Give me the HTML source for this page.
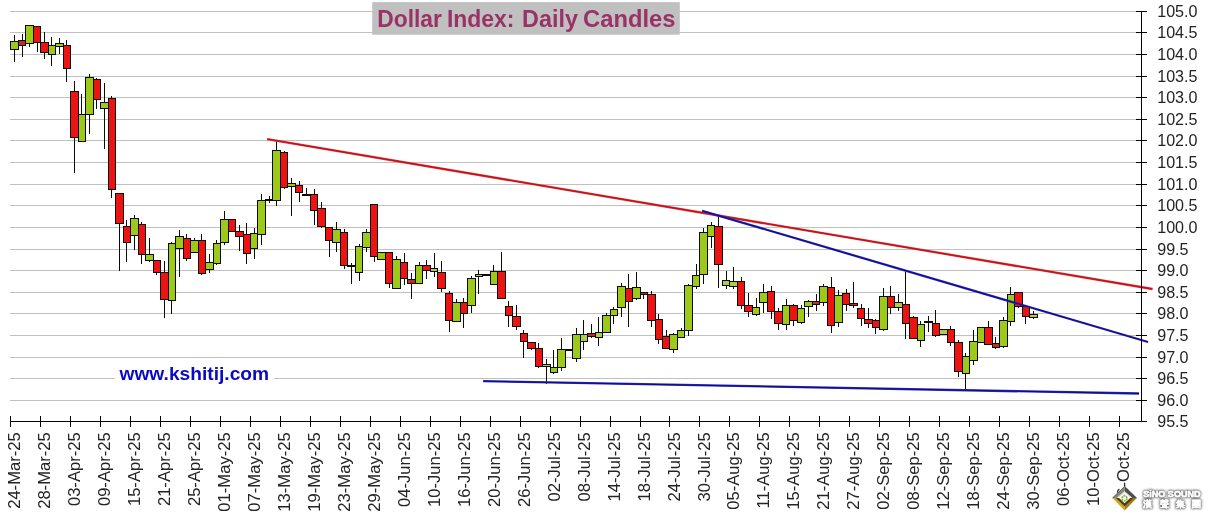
<!DOCTYPE html>
<html lang="en"><head><meta charset="utf-8"><title>Dollar Index: Daily Candles</title>
<style>html,body{margin:0;padding:0;background:#fff;}body{width:1211px;height:520px;overflow:hidden;}svg{display:block;}text{font-family:"Liberation Sans", Arial, Helvetica, sans-serif;}</style>
</head><body>
<svg width="1211" height="520" viewBox="0 0 1211 520">
<rect width="1211" height="520" fill="#ffffff"/>
<g stroke="#c0c0c0" stroke-width="1" shape-rendering="crispEdges">
<line x1="10.4" y1="11.50" x2="1141.5" y2="11.50"/>
<line x1="10.4" y1="32.50" x2="1141.5" y2="32.50"/>
<line x1="10.4" y1="54.50" x2="1141.5" y2="54.50"/>
<line x1="10.4" y1="76.50" x2="1141.5" y2="76.50"/>
<line x1="10.4" y1="97.50" x2="1141.5" y2="97.50"/>
<line x1="10.4" y1="119.50" x2="1141.5" y2="119.50"/>
<line x1="10.4" y1="140.50" x2="1141.5" y2="140.50"/>
<line x1="10.4" y1="162.50" x2="1141.5" y2="162.50"/>
<line x1="10.4" y1="184.50" x2="1141.5" y2="184.50"/>
<line x1="10.4" y1="205.50" x2="1141.5" y2="205.50"/>
<line x1="10.4" y1="227.50" x2="1141.5" y2="227.50"/>
<line x1="10.4" y1="249.50" x2="1141.5" y2="249.50"/>
<line x1="10.4" y1="270.50" x2="1141.5" y2="270.50"/>
<line x1="10.4" y1="292.50" x2="1141.5" y2="292.50"/>
<line x1="10.4" y1="313.50" x2="1141.5" y2="313.50"/>
<line x1="10.4" y1="335.50" x2="1141.5" y2="335.50"/>
<line x1="10.4" y1="357.50" x2="1141.5" y2="357.50"/>
<line x1="10.4" y1="378.50" x2="1141.5" y2="378.50"/>
<line x1="10.4" y1="400.50" x2="1141.5" y2="400.50"/>
</g>
<rect x="372.2" y="2.1" width="307.6" height="32.6" fill="#c0c0c0"/>
<text x="377.3" y="26.7" font-size="23.4" font-weight="bold" fill="#993366" opacity="0.999" textLength="64.6" lengthAdjust="spacingAndGlyphs">Dollar</text>
<text x="447.0" y="26.7" font-size="23.4" font-weight="bold" fill="#993366" opacity="0.999" textLength="67.5" lengthAdjust="spacingAndGlyphs">Index:</text>
<text x="522.1" y="26.7" font-size="23.4" font-weight="bold" fill="#993366" opacity="0.999" textLength="55.8" lengthAdjust="spacingAndGlyphs">Daily</text>
<text x="583.1" y="26.7" font-size="23.4" font-weight="bold" fill="#993366" opacity="0.999" textLength="92.3" lengthAdjust="spacingAndGlyphs">Candles</text>
<rect x="114.9" y="362" width="159.3" height="24" fill="#ffffff"/>
<text x="119.5" y="379.6" font-size="19.2" font-weight="bold" fill="#0a0ac4" opacity="0.999">www.kshitij.com</text>
<g stroke="#0c0c02" stroke-width="1" shape-rendering="crispEdges">
<line x1="14.5" y1="35" x2="14.5" y2="62"/>
<line x1="22.5" y1="34" x2="22.5" y2="57"/>
<line x1="29.5" y1="25" x2="29.5" y2="47"/>
<line x1="37.5" y1="26" x2="37.5" y2="52"/>
<line x1="44.5" y1="32" x2="44.5" y2="59"/>
<line x1="51.5" y1="37" x2="51.5" y2="66"/>
<line x1="59.5" y1="38" x2="59.5" y2="54"/>
<line x1="66.5" y1="40" x2="66.5" y2="82"/>
<line x1="74.5" y1="81" x2="74.5" y2="173"/>
<line x1="81.5" y1="94" x2="81.5" y2="142"/>
<line x1="89.5" y1="74" x2="89.5" y2="134"/>
<line x1="96.5" y1="78" x2="96.5" y2="109"/>
<line x1="104.5" y1="83" x2="104.5" y2="149"/>
<line x1="111.5" y1="96" x2="111.5" y2="198"/>
<line x1="119.5" y1="193" x2="119.5" y2="271"/>
<line x1="126.5" y1="220" x2="126.5" y2="262"/>
<line x1="134.5" y1="215" x2="134.5" y2="250"/>
<line x1="141.5" y1="222" x2="141.5" y2="264"/>
<line x1="149.5" y1="238" x2="149.5" y2="262"/>
<line x1="156.5" y1="260" x2="156.5" y2="275"/>
<line x1="164.5" y1="261" x2="164.5" y2="318"/>
<line x1="171.5" y1="242" x2="171.5" y2="314"/>
<line x1="179.5" y1="230" x2="179.5" y2="277"/>
<line x1="186.5" y1="234" x2="186.5" y2="261"/>
<line x1="194.5" y1="238" x2="194.5" y2="253"/>
<line x1="201.5" y1="234" x2="201.5" y2="275"/>
<line x1="209.5" y1="254" x2="209.5" y2="273"/>
<line x1="216.5" y1="240" x2="216.5" y2="265"/>
<line x1="224.5" y1="211" x2="224.5" y2="245"/>
<line x1="231.5" y1="219" x2="231.5" y2="232"/>
<line x1="239.5" y1="225" x2="239.5" y2="251"/>
<line x1="246.5" y1="223" x2="246.5" y2="264"/>
<line x1="254.5" y1="228" x2="254.5" y2="259"/>
<line x1="261.5" y1="194" x2="261.5" y2="245"/>
<line x1="269.5" y1="196" x2="269.5" y2="203"/>
<line x1="276.5" y1="141" x2="276.5" y2="206"/>
<line x1="284.5" y1="151" x2="284.5" y2="189"/>
<line x1="291.5" y1="178" x2="291.5" y2="216"/>
<line x1="299.5" y1="181" x2="299.5" y2="202"/>
<line x1="306.5" y1="188" x2="306.5" y2="196"/>
<line x1="314.5" y1="189" x2="314.5" y2="225"/>
<line x1="321.5" y1="202" x2="321.5" y2="228"/>
<line x1="329.5" y1="227" x2="329.5" y2="257"/>
<line x1="336.5" y1="222" x2="336.5" y2="252"/>
<line x1="344.5" y1="229" x2="344.5" y2="269"/>
<line x1="351.5" y1="263" x2="351.5" y2="284"/>
<line x1="359.5" y1="244" x2="359.5" y2="281"/>
<line x1="366.5" y1="229" x2="366.5" y2="252"/>
<line x1="374.5" y1="204" x2="374.5" y2="262"/>
<line x1="381.5" y1="252" x2="381.5" y2="260"/>
<line x1="389.5" y1="252" x2="389.5" y2="288"/>
<line x1="396.5" y1="256" x2="396.5" y2="289"/>
<line x1="404.5" y1="253" x2="404.5" y2="285"/>
<line x1="411.5" y1="273" x2="411.5" y2="299"/>
<line x1="419.5" y1="262" x2="419.5" y2="284"/>
<line x1="426.5" y1="260" x2="426.5" y2="279"/>
<line x1="434.5" y1="253" x2="434.5" y2="277"/>
<line x1="441.5" y1="261" x2="441.5" y2="292"/>
<line x1="449.5" y1="291" x2="449.5" y2="332"/>
<line x1="456.5" y1="299" x2="456.5" y2="322"/>
<line x1="463.5" y1="298" x2="463.5" y2="328"/>
<line x1="471.5" y1="276" x2="471.5" y2="313"/>
<line x1="478.5" y1="270" x2="478.5" y2="294"/>
<line x1="486.5" y1="274" x2="486.5" y2="276"/>
<line x1="493.5" y1="265" x2="493.5" y2="285"/>
<line x1="501.5" y1="252" x2="501.5" y2="299"/>
<line x1="508.5" y1="301" x2="508.5" y2="327"/>
<line x1="516.5" y1="305" x2="516.5" y2="330"/>
<line x1="523.5" y1="330" x2="523.5" y2="358"/>
<line x1="531.5" y1="342" x2="531.5" y2="350"/>
<line x1="538.5" y1="343" x2="538.5" y2="368"/>
<line x1="546.5" y1="359" x2="546.5" y2="384"/>
<line x1="553.5" y1="350" x2="553.5" y2="374"/>
<line x1="561.5" y1="338" x2="561.5" y2="371"/>
<line x1="568.5" y1="349" x2="568.5" y2="351"/>
<line x1="576.5" y1="328" x2="576.5" y2="362"/>
<line x1="583.5" y1="320" x2="583.5" y2="350"/>
<line x1="591.5" y1="324" x2="591.5" y2="338"/>
<line x1="598.5" y1="317" x2="598.5" y2="346"/>
<line x1="606.5" y1="313" x2="606.5" y2="333"/>
<line x1="613.5" y1="307" x2="613.5" y2="324"/>
<line x1="621.5" y1="283" x2="621.5" y2="317"/>
<line x1="628.5" y1="274" x2="628.5" y2="327"/>
<line x1="636.5" y1="272" x2="636.5" y2="300"/>
<line x1="643.5" y1="292" x2="643.5" y2="299"/>
<line x1="651.5" y1="291" x2="651.5" y2="327"/>
<line x1="658.5" y1="314" x2="658.5" y2="344"/>
<line x1="666.5" y1="330" x2="666.5" y2="349"/>
<line x1="673.5" y1="333" x2="673.5" y2="353"/>
<line x1="681.5" y1="328" x2="681.5" y2="338"/>
<line x1="688.5" y1="284" x2="688.5" y2="336"/>
<line x1="696.5" y1="264" x2="696.5" y2="289"/>
<line x1="703.5" y1="228" x2="703.5" y2="284"/>
<line x1="711.5" y1="222" x2="711.5" y2="248"/>
<line x1="718.5" y1="216" x2="718.5" y2="288"/>
<line x1="726.5" y1="271" x2="726.5" y2="289"/>
<line x1="733.5" y1="267" x2="733.5" y2="289"/>
<line x1="741.5" y1="277" x2="741.5" y2="309"/>
<line x1="748.5" y1="293" x2="748.5" y2="317"/>
<line x1="756.5" y1="298" x2="756.5" y2="316"/>
<line x1="763.5" y1="284" x2="763.5" y2="313"/>
<line x1="771.5" y1="286" x2="771.5" y2="319"/>
<line x1="778.5" y1="308" x2="778.5" y2="330"/>
<line x1="786.5" y1="299" x2="786.5" y2="330"/>
<line x1="793.5" y1="304" x2="793.5" y2="326"/>
<line x1="801.5" y1="305" x2="801.5" y2="324"/>
<line x1="808.5" y1="300" x2="808.5" y2="317"/>
<line x1="816.5" y1="294" x2="816.5" y2="311"/>
<line x1="823.5" y1="284" x2="823.5" y2="306"/>
<line x1="831.5" y1="277" x2="831.5" y2="333"/>
<line x1="838.5" y1="290" x2="838.5" y2="327"/>
<line x1="846.5" y1="289" x2="846.5" y2="311"/>
<line x1="853.5" y1="282" x2="853.5" y2="308"/>
<line x1="861.5" y1="304" x2="861.5" y2="326"/>
<line x1="868.5" y1="308" x2="868.5" y2="328"/>
<line x1="875.5" y1="319" x2="875.5" y2="334"/>
<line x1="883.5" y1="288" x2="883.5" y2="331"/>
<line x1="890.5" y1="286" x2="890.5" y2="314"/>
<line x1="898.5" y1="294" x2="898.5" y2="311"/>
<line x1="905.5" y1="272" x2="905.5" y2="339"/>
<line x1="913.5" y1="316" x2="913.5" y2="339"/>
<line x1="920.5" y1="321" x2="920.5" y2="347"/>
<line x1="928.5" y1="316" x2="928.5" y2="332"/>
<line x1="935.5" y1="310" x2="935.5" y2="337"/>
<line x1="943.5" y1="329" x2="943.5" y2="335"/>
<line x1="950.5" y1="326" x2="950.5" y2="346"/>
<line x1="958.5" y1="340" x2="958.5" y2="377"/>
<line x1="965.5" y1="353" x2="965.5" y2="390"/>
<line x1="973.5" y1="330" x2="973.5" y2="365"/>
<line x1="980.5" y1="327" x2="980.5" y2="343"/>
<line x1="988.5" y1="321" x2="988.5" y2="345"/>
<line x1="995.5" y1="337" x2="995.5" y2="349"/>
<line x1="1003.5" y1="317" x2="1003.5" y2="348"/>
<line x1="1010.5" y1="287" x2="1010.5" y2="326"/>
<line x1="1018.5" y1="292" x2="1018.5" y2="308"/>
<line x1="1025.5" y1="306" x2="1025.5" y2="324"/>
<line x1="1033.5" y1="311" x2="1033.5" y2="319"/>
</g>
<g stroke="#0c0c02" stroke-width="1" shape-rendering="crispEdges">
<rect x="10.5" y="41.5" width="8" height="8" fill="#9cc91a"/>
<rect x="18.5" y="40.5" width="7" height="5" fill="#c02a2a"/>
<rect x="25.5" y="25.5" width="8" height="18" fill="#9cc91a"/>
<rect x="33.5" y="26.5" width="7" height="16" fill="#ee1313"/>
<rect x="40.5" y="42.5" width="8" height="10" fill="#ee1313"/>
<rect x="48.5" y="45.5" width="7" height="9" fill="#9cc91a"/>
<rect x="55.5" y="43.5" width="8" height="3" fill="#9cc91a"/>
<rect x="63.5" y="45.5" width="7" height="23" fill="#ee1313"/>
<rect x="70.5" y="91.5" width="8" height="46" fill="#ee1313"/>
<rect x="78.5" y="114.5" width="7" height="27" fill="#9cc91a"/>
<rect x="85.5" y="77.5" width="8" height="37" fill="#9cc91a"/>
<rect x="93.5" y="79.5" width="7" height="20" fill="#ee1313"/>
<rect x="100.5" y="102.5" width="8" height="6" fill="#9cc91a"/>
<rect x="108.5" y="98.5" width="7" height="91" fill="#ee1313"/>
<rect x="115.5" y="193.5" width="8" height="30" fill="#ee1313"/>
<rect x="123.5" y="226.5" width="7" height="16" fill="#ee1313"/>
<rect x="130.5" y="218.5" width="8" height="17" fill="#9cc91a"/>
<rect x="138.5" y="224.5" width="7" height="30" fill="#ee1313"/>
<rect x="145.5" y="254.5" width="8" height="6" fill="#9cc91a"/>
<rect x="153.5" y="260.5" width="7" height="12" fill="#ee1313"/>
<rect x="160.5" y="272.5" width="8" height="27" fill="#ee1313"/>
<rect x="168.5" y="243.5" width="7" height="57" fill="#9cc91a"/>
<rect x="175.5" y="236.5" width="8" height="12" fill="#9cc91a"/>
<rect x="183.5" y="238.5" width="7" height="20" fill="#ee1313"/>
<rect x="190.5" y="240.5" width="8" height="12" fill="#9cc91a"/>
<rect x="198.5" y="240.5" width="7" height="33" fill="#ee1313"/>
<rect x="205.5" y="262.5" width="8" height="7" fill="#9cc91a"/>
<rect x="213.5" y="243.5" width="7" height="20" fill="#9cc91a"/>
<rect x="220.5" y="219.5" width="8" height="23" fill="#9cc91a"/>
<rect x="228.5" y="219.5" width="7" height="12" fill="#ee1313"/>
<rect x="235.5" y="231.5" width="8" height="5" fill="#ee1313"/>
<rect x="243.5" y="234.5" width="7" height="19" fill="#ee1313"/>
<rect x="250.5" y="233.5" width="7" height="15" fill="#9cc91a"/>
<rect x="257.5" y="200.5" width="8" height="34" fill="#9cc91a"/>
<rect x="265.5" y="199.5" width="7" height="1" fill="#000000"/>
<rect x="272.5" y="150.5" width="8" height="50" fill="#9cc91a"/>
<rect x="280.5" y="152.5" width="7" height="35" fill="#ee1313"/>
<rect x="287.5" y="183.5" width="8" height="3" fill="#9cc91a"/>
<rect x="295.5" y="185.5" width="7" height="7" fill="#ee1313"/>
<rect x="302.5" y="194.5" width="8" height="1" fill="#000000"/>
<rect x="310.5" y="194.5" width="7" height="16" fill="#ee1313"/>
<rect x="317.5" y="208.5" width="8" height="18" fill="#ee1313"/>
<rect x="325.5" y="227.5" width="7" height="13" fill="#ee1313"/>
<rect x="332.5" y="229.5" width="8" height="13" fill="#9cc91a"/>
<rect x="340.5" y="232.5" width="7" height="33" fill="#ee1313"/>
<rect x="347.5" y="265.5" width="8" height="1" fill="#000000"/>
<rect x="355.5" y="246.5" width="7" height="26" fill="#9cc91a"/>
<rect x="362.5" y="232.5" width="8" height="15" fill="#9cc91a"/>
<rect x="370.5" y="204.5" width="7" height="52" fill="#ee1313"/>
<rect x="377.5" y="252.5" width="8" height="7" fill="#9cc91a"/>
<rect x="385.5" y="252.5" width="7" height="31" fill="#ee1313"/>
<rect x="392.5" y="259.5" width="8" height="29" fill="#9cc91a"/>
<rect x="400.5" y="262.5" width="7" height="16" fill="#ee1313"/>
<rect x="407.5" y="279.5" width="8" height="4" fill="#c02a2a"/>
<rect x="415.5" y="265.5" width="7" height="18" fill="#9cc91a"/>
<rect x="422.5" y="265.5" width="8" height="5" fill="#ee1313"/>
<rect x="430.5" y="268.5" width="7" height="3" fill="#adcb4c"/>
<rect x="437.5" y="272.5" width="8" height="16" fill="#ee1313"/>
<rect x="445.5" y="293.5" width="7" height="27" fill="#ee1313"/>
<rect x="452.5" y="302.5" width="8" height="19" fill="#9cc91a"/>
<rect x="460.5" y="302.5" width="7" height="11" fill="#ee1313"/>
<rect x="467.5" y="278.5" width="8" height="27" fill="#9cc91a"/>
<rect x="475.5" y="274.5" width="7" height="2" fill="#adcb4c"/>
<rect x="482.5" y="274.5" width="8" height="1" fill="#000000"/>
<rect x="490.5" y="271.5" width="7" height="13" fill="#9cc91a"/>
<rect x="497.5" y="271.5" width="8" height="27" fill="#ee1313"/>
<rect x="505.5" y="306.5" width="7" height="9" fill="#ee1313"/>
<rect x="512.5" y="316.5" width="8" height="10" fill="#ee1313"/>
<rect x="520.5" y="333.5" width="7" height="8" fill="#ee1313"/>
<rect x="527.5" y="342.5" width="8" height="6" fill="#ee1313"/>
<rect x="535.5" y="348.5" width="7" height="18" fill="#ee1313"/>
<rect x="542.5" y="364.5" width="8" height="2" fill="#adcb4c"/>
<rect x="550.5" y="367.5" width="7" height="5" fill="#9cc91a"/>
<rect x="557.5" y="349.5" width="8" height="18" fill="#9cc91a"/>
<rect x="565.5" y="349.5" width="7" height="1" fill="#000000"/>
<rect x="572.5" y="334.5" width="8" height="24" fill="#9cc91a"/>
<rect x="580.5" y="334.5" width="7" height="7" fill="#adcb4c"/>
<rect x="587.5" y="333.5" width="8" height="3" fill="#c02a2a"/>
<rect x="595.5" y="332.5" width="7" height="5" fill="#adcb4c"/>
<rect x="602.5" y="315.5" width="8" height="17" fill="#9cc91a"/>
<rect x="610.5" y="309.5" width="7" height="6" fill="#9cc91a"/>
<rect x="617.5" y="286.5" width="8" height="21" fill="#9cc91a"/>
<rect x="625.5" y="288.5" width="7" height="13" fill="#ee1313"/>
<rect x="632.5" y="287.5" width="8" height="11" fill="#9cc91a"/>
<rect x="640.5" y="292.5" width="7" height="2" fill="#c02a2a"/>
<rect x="647.5" y="294.5" width="8" height="26" fill="#ee1313"/>
<rect x="655.5" y="319.5" width="7" height="20" fill="#ee1313"/>
<rect x="662.5" y="336.5" width="7" height="12" fill="#ee1313"/>
<rect x="669.5" y="334.5" width="8" height="15" fill="#9cc91a"/>
<rect x="677.5" y="330.5" width="7" height="7" fill="#9cc91a"/>
<rect x="684.5" y="285.5" width="8" height="45" fill="#9cc91a"/>
<rect x="692.5" y="275.5" width="7" height="11" fill="#9cc91a"/>
<rect x="699.5" y="232.5" width="8" height="42" fill="#9cc91a"/>
<rect x="707.5" y="225.5" width="7" height="11" fill="#9cc91a"/>
<rect x="714.5" y="226.5" width="8" height="38" fill="#ee1313"/>
<rect x="722.5" y="280.5" width="7" height="5" fill="#adcb4c"/>
<rect x="729.5" y="281.5" width="8" height="5" fill="#adcb4c"/>
<rect x="737.5" y="281.5" width="7" height="24" fill="#ee1313"/>
<rect x="744.5" y="305.5" width="8" height="6" fill="#ee1313"/>
<rect x="752.5" y="307.5" width="7" height="7" fill="#9cc91a"/>
<rect x="759.5" y="292.5" width="8" height="10" fill="#9cc91a"/>
<rect x="767.5" y="291.5" width="7" height="20" fill="#ee1313"/>
<rect x="774.5" y="311.5" width="8" height="12" fill="#ee1313"/>
<rect x="782.5" y="305.5" width="7" height="19" fill="#9cc91a"/>
<rect x="789.5" y="305.5" width="8" height="15" fill="#ee1313"/>
<rect x="797.5" y="308.5" width="7" height="14" fill="#9cc91a"/>
<rect x="804.5" y="301.5" width="8" height="5" fill="#9cc91a"/>
<rect x="812.5" y="301.5" width="7" height="3" fill="#c02a2a"/>
<rect x="819.5" y="286.5" width="8" height="16" fill="#9cc91a"/>
<rect x="827.5" y="287.5" width="7" height="38" fill="#ee1313"/>
<rect x="834.5" y="295.5" width="8" height="27" fill="#9cc91a"/>
<rect x="842.5" y="293.5" width="7" height="11" fill="#ee1313"/>
<rect x="849.5" y="303.5" width="8" height="2" fill="#c02a2a"/>
<rect x="857.5" y="308.5" width="7" height="10" fill="#ee1313"/>
<rect x="864.5" y="319.5" width="8" height="4" fill="#ee1313"/>
<rect x="872.5" y="320.5" width="7" height="7" fill="#ee1313"/>
<rect x="879.5" y="296.5" width="8" height="33" fill="#9cc91a"/>
<rect x="887.5" y="296.5" width="7" height="11" fill="#ee1313"/>
<rect x="894.5" y="302.5" width="8" height="5" fill="#adcb4c"/>
<rect x="902.5" y="304.5" width="7" height="19" fill="#ee1313"/>
<rect x="909.5" y="317.5" width="8" height="21" fill="#ee1313"/>
<rect x="917.5" y="324.5" width="7" height="16" fill="#9cc91a"/>
<rect x="924.5" y="321.5" width="8" height="1" fill="#000000"/>
<rect x="932.5" y="323.5" width="7" height="12" fill="#ee1313"/>
<rect x="939.5" y="329.5" width="8" height="5" fill="#adcb4c"/>
<rect x="947.5" y="329.5" width="7" height="13" fill="#ee1313"/>
<rect x="954.5" y="342.5" width="8" height="29" fill="#ee1313"/>
<rect x="962.5" y="356.5" width="7" height="17" fill="#9cc91a"/>
<rect x="969.5" y="341.5" width="8" height="19" fill="#9cc91a"/>
<rect x="977.5" y="327.5" width="7" height="15" fill="#9cc91a"/>
<rect x="984.5" y="327.5" width="8" height="17" fill="#ee1313"/>
<rect x="992.5" y="343.5" width="7" height="4" fill="#c02a2a"/>
<rect x="999.5" y="320.5" width="8" height="26" fill="#9cc91a"/>
<rect x="1007.5" y="294.5" width="7" height="27" fill="#9cc91a"/>
<rect x="1014.5" y="292.5" width="8" height="14" fill="#ee1313"/>
<rect x="1022.5" y="306.5" width="7" height="10" fill="#ee1313"/>
<rect x="1029.5" y="314.5" width="8" height="3" fill="#adcb4c"/>
</g>
<line x1="267.2" y1="139.1" x2="1152.5" y2="289" stroke="#f0282e" stroke-width="2.3"/>
<line x1="267.2" y1="139.1" x2="1152.5" y2="289" stroke="#a3181e" stroke-width="1.0"/>
<line x1="702.2" y1="210.8" x2="1148" y2="342" stroke="#2a28c6" stroke-width="2.3"/>
<line x1="702.2" y1="210.8" x2="1148" y2="342" stroke="#0e0d74" stroke-width="1.0"/>
<line x1="483.2" y1="381.2" x2="1139" y2="393.5" stroke="#2a28c6" stroke-width="2.3"/>
<line x1="483.2" y1="381.2" x2="1139" y2="393.5" stroke="#0e0d74" stroke-width="1.0"/>
<g stroke="#000" stroke-width="1" shape-rendering="crispEdges">
<line x1="1141.5" y1="11.0" x2="1141.5" y2="422.0"/>
<line x1="9.9" y1="421.5" x2="1142.0" y2="421.5"/>
<line x1="1136" y1="11.50" x2="1147" y2="11.50"/>
<line x1="1136" y1="32.50" x2="1147" y2="32.50"/>
<line x1="1136" y1="54.50" x2="1147" y2="54.50"/>
<line x1="1136" y1="76.50" x2="1147" y2="76.50"/>
<line x1="1136" y1="97.50" x2="1147" y2="97.50"/>
<line x1="1136" y1="119.50" x2="1147" y2="119.50"/>
<line x1="1136" y1="140.50" x2="1147" y2="140.50"/>
<line x1="1136" y1="162.50" x2="1147" y2="162.50"/>
<line x1="1136" y1="184.50" x2="1147" y2="184.50"/>
<line x1="1136" y1="205.50" x2="1147" y2="205.50"/>
<line x1="1136" y1="227.50" x2="1147" y2="227.50"/>
<line x1="1136" y1="249.50" x2="1147" y2="249.50"/>
<line x1="1136" y1="270.50" x2="1147" y2="270.50"/>
<line x1="1136" y1="292.50" x2="1147" y2="292.50"/>
<line x1="1136" y1="313.50" x2="1147" y2="313.50"/>
<line x1="1136" y1="335.50" x2="1147" y2="335.50"/>
<line x1="1136" y1="357.50" x2="1147" y2="357.50"/>
<line x1="1136" y1="378.50" x2="1147" y2="378.50"/>
<line x1="1136" y1="400.50" x2="1147" y2="400.50"/>
<line x1="1136" y1="421.50" x2="1147" y2="421.50"/>
<line x1="10.50" y1="416" x2="10.50" y2="427"/>
<line x1="40.50" y1="416" x2="40.50" y2="427"/>
<line x1="70.50" y1="416" x2="70.50" y2="427"/>
<line x1="100.50" y1="416" x2="100.50" y2="427"/>
<line x1="130.50" y1="416" x2="130.50" y2="427"/>
<line x1="160.50" y1="416" x2="160.50" y2="427"/>
<line x1="190.50" y1="416" x2="190.50" y2="427"/>
<line x1="220.50" y1="416" x2="220.50" y2="427"/>
<line x1="250.50" y1="416" x2="250.50" y2="427"/>
<line x1="280.50" y1="416" x2="280.50" y2="427"/>
<line x1="310.50" y1="416" x2="310.50" y2="427"/>
<line x1="340.50" y1="416" x2="340.50" y2="427"/>
<line x1="370.50" y1="416" x2="370.50" y2="427"/>
<line x1="400.50" y1="416" x2="400.50" y2="427"/>
<line x1="430.50" y1="416" x2="430.50" y2="427"/>
<line x1="460.50" y1="416" x2="460.50" y2="427"/>
<line x1="490.50" y1="416" x2="490.50" y2="427"/>
<line x1="520.50" y1="416" x2="520.50" y2="427"/>
<line x1="550.50" y1="416" x2="550.50" y2="427"/>
<line x1="580.50" y1="416" x2="580.50" y2="427"/>
<line x1="610.50" y1="416" x2="610.50" y2="427"/>
<line x1="640.50" y1="416" x2="640.50" y2="427"/>
<line x1="669.50" y1="416" x2="669.50" y2="427"/>
<line x1="699.50" y1="416" x2="699.50" y2="427"/>
<line x1="729.50" y1="416" x2="729.50" y2="427"/>
<line x1="759.50" y1="416" x2="759.50" y2="427"/>
<line x1="789.50" y1="416" x2="789.50" y2="427"/>
<line x1="819.50" y1="416" x2="819.50" y2="427"/>
<line x1="849.50" y1="416" x2="849.50" y2="427"/>
<line x1="879.50" y1="416" x2="879.50" y2="427"/>
<line x1="909.50" y1="416" x2="909.50" y2="427"/>
<line x1="939.50" y1="416" x2="939.50" y2="427"/>
<line x1="969.50" y1="416" x2="969.50" y2="427"/>
<line x1="999.50" y1="416" x2="999.50" y2="427"/>
<line x1="1029.50" y1="416" x2="1029.50" y2="427"/>
<line x1="1059.50" y1="416" x2="1059.50" y2="427"/>
<line x1="1089.50" y1="416" x2="1089.50" y2="427"/>
<line x1="1119.50" y1="416" x2="1119.50" y2="427"/>
</g>
<g font-size="16.1" fill="#242424" opacity="0.999">
<text x="1157.2" y="17.30">105.0</text>
<text x="1157.2" y="38.30">104.5</text>
<text x="1157.2" y="60.30">104.0</text>
<text x="1157.2" y="82.30">103.5</text>
<text x="1157.2" y="103.30">103.0</text>
<text x="1157.2" y="125.30">102.5</text>
<text x="1157.2" y="146.30">102.0</text>
<text x="1157.2" y="168.30">101.5</text>
<text x="1157.2" y="190.30">101.0</text>
<text x="1157.2" y="211.30">100.5</text>
<text x="1157.2" y="233.30">100.0</text>
<text x="1157.2" y="255.30">99.5</text>
<text x="1157.2" y="276.30">99.0</text>
<text x="1157.2" y="298.30">98.5</text>
<text x="1157.2" y="319.30">98.0</text>
<text x="1157.2" y="341.30">97.5</text>
<text x="1157.2" y="363.30">97.0</text>
<text x="1157.2" y="384.30">96.5</text>
<text x="1157.2" y="406.30">96.0</text>
<text x="1157.2" y="427.30">95.5</text>
</g>
<g font-size="16.6" fill="#242424" text-anchor="end" opacity="0.999">
<text transform="translate(14.53,432.3) rotate(-90)" y="5.8">24-Mar-25</text>
<text transform="translate(44.49,432.3) rotate(-90)" y="5.8">28-Mar-25</text>
<text transform="translate(74.46,432.3) rotate(-90)" y="5.8">03-Apr-25</text>
<text transform="translate(104.42,432.3) rotate(-90)" y="5.8">09-Apr-25</text>
<text transform="translate(134.39,432.3) rotate(-90)" y="5.8">15-Apr-25</text>
<text transform="translate(164.35,432.3) rotate(-90)" y="5.8">21-Apr-25</text>
<text transform="translate(194.31,432.3) rotate(-90)" y="5.8">25-Apr-25</text>
<text transform="translate(224.28,432.3) rotate(-90)" y="5.8">01-May-25</text>
<text transform="translate(254.24,432.3) rotate(-90)" y="5.8">07-May-25</text>
<text transform="translate(284.21,432.3) rotate(-90)" y="5.8">13-May-25</text>
<text transform="translate(314.17,432.3) rotate(-90)" y="5.8">19-May-25</text>
<text transform="translate(344.13,432.3) rotate(-90)" y="5.8">23-May-25</text>
<text transform="translate(374.10,432.3) rotate(-90)" y="5.8">29-May-25</text>
<text transform="translate(404.06,432.3) rotate(-90)" y="5.8">04-Jun-25</text>
<text transform="translate(434.03,432.3) rotate(-90)" y="5.8">10-Jun-25</text>
<text transform="translate(463.99,432.3) rotate(-90)" y="5.8">16-Jun-25</text>
<text transform="translate(493.95,432.3) rotate(-90)" y="5.8">20-Jun-25</text>
<text transform="translate(523.92,432.3) rotate(-90)" y="5.8">26-Jun-25</text>
<text transform="translate(553.88,432.3) rotate(-90)" y="5.8">02-Jul-25</text>
<text transform="translate(583.85,432.3) rotate(-90)" y="5.8">08-Jul-25</text>
<text transform="translate(613.81,432.3) rotate(-90)" y="5.8">14-Jul-25</text>
<text transform="translate(643.77,432.3) rotate(-90)" y="5.8">18-Jul-25</text>
<text transform="translate(673.74,432.3) rotate(-90)" y="5.8">24-Jul-25</text>
<text transform="translate(703.70,432.3) rotate(-90)" y="5.8">30-Jul-25</text>
<text transform="translate(733.67,432.3) rotate(-90)" y="5.8">05-Aug-25</text>
<text transform="translate(763.63,432.3) rotate(-90)" y="5.8">11-Aug-25</text>
<text transform="translate(793.59,432.3) rotate(-90)" y="5.8">15-Aug-25</text>
<text transform="translate(823.56,432.3) rotate(-90)" y="5.8">21-Aug-25</text>
<text transform="translate(853.52,432.3) rotate(-90)" y="5.8">27-Aug-25</text>
<text transform="translate(883.49,432.3) rotate(-90)" y="5.8">02-Sep-25</text>
<text transform="translate(913.45,432.3) rotate(-90)" y="5.8">08-Sep-25</text>
<text transform="translate(943.41,432.3) rotate(-90)" y="5.8">12-Sep-25</text>
<text transform="translate(973.38,432.3) rotate(-90)" y="5.8">18-Sep-25</text>
<text transform="translate(1003.34,432.3) rotate(-90)" y="5.8">24-Sep-25</text>
<text transform="translate(1033.31,432.3) rotate(-90)" y="5.8">30-Sep-25</text>
<text transform="translate(1063.27,432.3) rotate(-90)" y="5.8">06-Oct-25</text>
<text transform="translate(1093.23,432.3) rotate(-90)" y="5.8">10-Oct-25</text>
<text transform="translate(1123.20,432.3) rotate(-90)" y="5.8">16-Oct-25</text>
</g>
<g id="wm">
<defs>
<filter id="sh" x="-10%" y="-40%" width="120%" height="180%"><feGaussianBlur stdDeviation="1.0"/></filter>
<linearGradient id="gtl" x1="0" y1="0" x2="1" y2="1"><stop offset="0" stop-color="#5c5c5c"/><stop offset="1" stop-color="#a4a4a4"/></linearGradient>
<linearGradient id="gbl" x1="0" y1="1" x2="1" y2="0"><stop offset="0" stop-color="#e0c428"/><stop offset="1" stop-color="#b8981a"/></linearGradient>
</defs>
<polygon points="1124.6,486.4 1136.7,498.1 1124.6,510.5 1112.4,498.1" fill="#ffffff"/>
<polygon points="1124.6,486.4 1112.4,498.1 1116.9,498.1 1124.6,491.2" fill="url(#gtl)"/>
<polygon points="1124.6,486.4 1136.7,498.1 1132.3,498.1 1124.6,491.2" fill="#4e4e4e"/>
<polygon points="1112.4,498.1 1124.6,510.5 1124.6,505.2 1116.9,498.1" fill="url(#gbl)"/>
<polygon points="1136.7,498.1 1124.6,510.5 1124.6,505.2 1132.3,498.1" fill="#9c7c14"/>
<polygon points="1115.9,498.1 1124.6,506.2 1133.3,498.1 1130.2,498.1 1124.6,503.2 1119.0,498.1" fill="#4a3c0e"/>
<polygon points="1116.9,498.1 1124.6,491.2 1132.3,498.1 1131.2,498.1 1124.6,492.2 1118.0,498.1" fill="#d4d4d4"/>
<polyline points="1112.4,498.1 1124.6,486.4 1136.7,498.1" fill="none" stroke="#3a3a3a" stroke-width="0.7"/>
<circle cx="1124.5" cy="498.3" r="2.5" fill="none" stroke="#7fb52e" stroke-width="1.5" stroke-dasharray="2 0.6"/>
<circle cx="1124.5" cy="495.2" r="0.9" fill="#a4cc58"/>
<g font-weight="bold" fill="#4a4a4a" stroke="#4a4a4a" stroke-width="1.9" stroke-linejoin="round" filter="url(#sh)" opacity="0.9">
<text x="1143.2" y="496.8" font-size="9.4" textLength="57.4" lengthAdjust="spacingAndGlyphs">SiNO SOUND</text>
<g font-size="8.6" style='font-family:"Liberation Sans","Noto Sans CJK TC",sans-serif'>
<text x="1143.4" y="506.8">漢</text><text x="1159.7" y="506.8">聲</text><text x="1175.7" y="506.8">集</text><text x="1192" y="506.8">團</text>
</g>
</g>
<g font-weight="bold" fill="#ffffff" stroke="#ffffff" stroke-width="0.7" stroke-linejoin="round" opacity="0.999">
<text x="1143.2" y="496.6" font-size="9.4" textLength="57.4" lengthAdjust="spacingAndGlyphs">SiNO SOUND</text>
<g font-size="8.6" stroke-width="0.3" style='font-family:"Liberation Sans","Noto Sans CJK TC",sans-serif'>
<text x="1143.4" y="506.6">漢</text><text x="1159.7" y="506.6">聲</text><text x="1175.7" y="506.6">集</text><text x="1192" y="506.6">團</text>
</g>
</g>
</g>

</svg></body></html>
